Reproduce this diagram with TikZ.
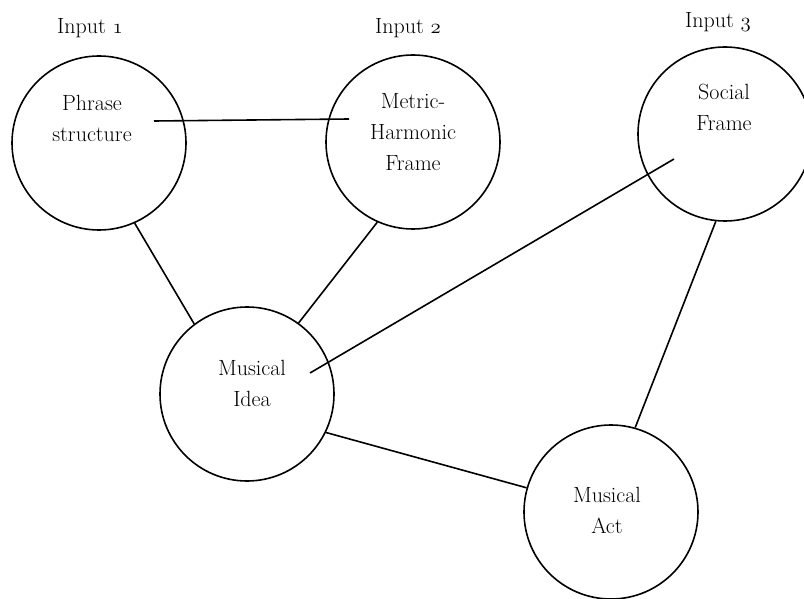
\documentclass[tikz,border=0pt]{standalone}
\newcommand{\osnum}[1]{{\fontencoding{OML}\fontfamily{cmm}\fontseries{m}\fontshape{it}\selectfont #1}}
\begin{document}
\begin{tikzpicture}[x=1pt,y=-1pt,
  frame/.style={circle,draw,line width=1.6pt,minimum size=174pt,inner sep=0pt},
  caption/.style={align=center,font=\fontsize{22}{31}\selectfont,inner sep=0pt},
  link/.style={line width=1.6pt}]
\useasboundingbox (0,0) rectangle (804,599);

% circles
\node[frame] (A) at (99,143) {};
\node[frame] (B) at (413,142) {};
\node[frame] (C) at (725,134) {};
\node[frame] (D) at (247,394) {};
\node[frame] (E) at (611,512) {};

% circle texts
\node[caption] (tA) at (92,118.5) {Phrase\\structure};
\node[caption] (tB) at (413,132.5) {Metric-\\Harmonic\\Frame};
\node[caption] (tC) at (724,107.5) {Social\\Frame};
\node[caption] (tD) at (252,383.5) {Musical\\Idea};
\node[caption] (tE) at (607,510) {Musical\\Act};

% input labels
\node[caption] (i1) at (90,28) {Input \osnum{1}};
\node[caption] (i2) at (408,28) {Input \osnum{2}};
\node[caption] (i3) at (718,22) {Input \osnum{3}};

% connectors
\draw[link] ([shift={(55,-22)}]A.center) -- ([shift={(-64,-23)}]B.center);
\draw[link] (A.-66) -- (D.127);
\draw[link] (B.246.6) -- (D.54.5);
\draw[link] ([shift={(-51,25)}]C.center) -- ([shift={(63,-21)}]D.center);
\draw[link] (C.264.9) -- (E.74.1);
\draw[link] (D.-26.3) -- (E.164);
\end{tikzpicture}
\end{document}
